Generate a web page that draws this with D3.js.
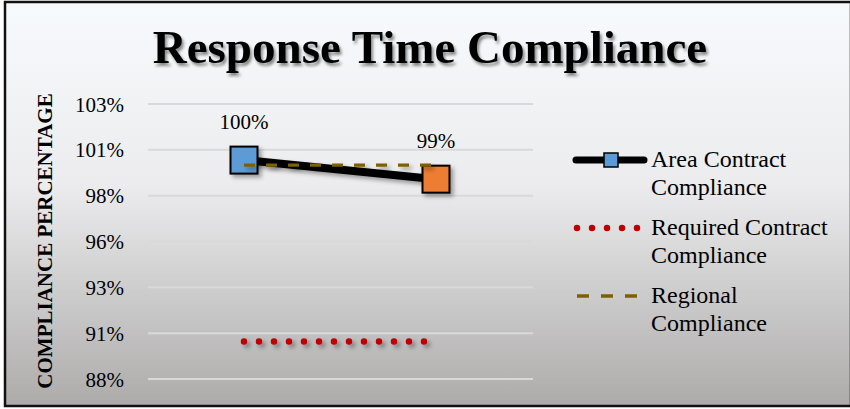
<!DOCTYPE html>
<html lang="en">
  <head>
    <meta charset="UTF-8" />
    <title>Response Time Compliance</title>
    <style>
      body { margin: 0; background: #fff; overflow: hidden; }
      text { font-family: "Liberation Serif", "Times New Roman", serif; fill: #000; }
      .grid line { stroke: #d9d9d9; stroke-width: 2px; }
    </style>
  </head>
  <body>
    <svg width="850" height="409"></svg>
    <script src="https://cdn.jsdelivr.net/npm/d3@7"></script>
    <script>
      // data
      const categories = ["A", "B"];
      const areaCompliance = [0.9994, 0.9890];
      const requiredCompliance = [0.9005, 0.9005];
      const regionalCompliance = [0.9967, 0.9967];
      const yTicks = [0.88, 0.905, 0.93, 0.955, 0.98, 1.005, 1.03];
      const pointColors = ["#5b9bd5", "#ed7d31"];

      // excel style rounding: 100.5% -> 101%
      const pct = (d) => Math.round(Math.round(d * 1000) / 10) + "%";

      const svg = d3.select("svg");
      const defs = svg.append("defs");

      const bg = defs.append("linearGradient").attr("id", "bg")
        .attr("x1", 0).attr("y1", 0).attr("x2", 0).attr("y2", 1);
      bg.append("stop").attr("offset", "0%").attr("stop-color", "#f7fafd");
      bg.append("stop").attr("offset", "45%").attr("stop-color", "#ececee");
      bg.append("stop").attr("offset", "100%").attr("stop-color", "#adabaa");

      // horizontal lines have a flat bbox, so the filter needs user space units
      const sh = defs.append("filter").attr("id", "shadow")
        .attr("filterUnits", "userSpaceOnUse")
        .attr("x", 0).attr("y", 0).attr("width", 850).attr("height", 409);
      sh.append("feDropShadow").attr("dx", 3).attr("dy", 3)
        .attr("stdDeviation", 2).attr("flood-color", "#000").attr("flood-opacity", 0.35);

      const tsh = defs.append("filter").attr("id", "tshadow");
      tsh.append("feDropShadow").attr("dx", 2).attr("dy", 3)
        .attr("stdDeviation", 1.5).attr("flood-color", "#000").attr("flood-opacity", 0.45);

      svg.append("rect")
        .attr("x", 5).attr("y", 2).attr("width", 846).attr("height", 404)
        .attr("fill", "url(#bg)").attr("stroke", "#111").attr("stroke-width", 2.5);

      svg.append("text")
        .attr("x", 430).attr("y", 63)
        .attr("text-anchor", "middle")
        .attr("font-size", 47).attr("font-weight", "bold")
        .attr("filter", "url(#tshadow)")
        .text("Response Time Compliance");

      const x = d3.scaleBand().domain(categories).range([148, 532]);
      const y = d3.scaleLinear().domain([0.88, 1.03]).range([379, 104]);

      // gridlines
      svg.append("g").attr("class", "grid")
        .selectAll("line").data(yTicks).join("line")
        .attr("x1", 148).attr("x2", 533)
        .attr("y1", (d) => y(d)).attr("y2", (d) => y(d));

      const yAxis = svg.append("g")
        .attr("transform", "translate(124,0)")
        .call(d3.axisLeft(y).tickValues(yTicks).tickSize(0).tickPadding(0).tickFormat(pct));
      yAxis.select(".domain").remove();
      yAxis.attr("font-family", null);
      yAxis.selectAll("text")
        .attr("font-size", 21)
        .attr("dy", "0.34em")
        .style("font-family", '"Liberation Serif", serif');

      svg.append("text")
        .attr("transform", "translate(52,241) rotate(-90)")
        .attr("text-anchor", "middle")
        .attr("font-size", 21).attr("font-weight", "bold")
        .text("COMPLIANCE PERCENTAGE");

      const cx = (i) => x(categories[i]) + x.bandwidth() / 2;
      const line = d3.line().x((d, i) => cx(i)).y((d) => y(d));

      // required
      svg.append("path")
        .attr("d", line(requiredCompliance))
        .attr("fill", "none").attr("stroke", "#c00000")
        .attr("stroke-width", 6.5).attr("stroke-linecap", "round")
        .attr("stroke-dasharray", "0 15")
        .attr("filter", "url(#shadow)");

      // area contract
      svg.append("path")
        .attr("d", line(areaCompliance))
        .attr("fill", "none").attr("stroke", "#000")
        .attr("stroke-width", 8)
        .attr("filter", "url(#shadow)");

      svg.selectAll("rect.pt").data(areaCompliance).join("rect")
        .attr("class", "pt")
        .attr("x", (d, i) => cx(i) - 13.5).attr("y", (d) => y(d) - 13.5)
        .attr("width", 27).attr("height", 27)
        .attr("fill", (d, i) => pointColors[i])
        .attr("stroke", "#000").attr("stroke-width", 2)
        .attr("filter", "url(#shadow)");

      // regional, drawn over the markers
      svg.append("path")
        .attr("d", line(regionalCompliance))
        .attr("fill", "none").attr("stroke", "#7f6000")
        .attr("stroke-width", 3.3)
        .attr("stroke-dasharray", "11 11")
        .attr("filter", "url(#shadow)");

      svg.selectAll("text.lbl").data(areaCompliance).join("text")
        .attr("class", "lbl")
        .attr("x", (d, i) => cx(i)).attr("y", (d) => y(d) - 31)
        .attr("text-anchor", "middle").attr("font-size", 21)
        .text((d) => d3.format(".0%")(d));

      // legend
      const legend = [
        { name: ["Area Contract", "Compliance"], y: 160, type: "area" },
        { name: ["Required Contract", "Compliance"], y: 228, type: "req" },
        { name: ["Regional", "Compliance"], y: 296, type: "reg" }
      ];
      const lg = svg.append("g");
      legend.forEach((l) => {
        if (l.type === "area") {
          lg.append("line").attr("x1", 576).attr("x2", 644).attr("y1", l.y).attr("y2", l.y)
            .attr("stroke", "#000").attr("stroke-width", 7).attr("stroke-linecap", "round");
          lg.append("rect").attr("x", 604).attr("y", l.y - 7).attr("width", 14).attr("height", 14)
            .attr("fill", pointColors[0]).attr("stroke", "#000").attr("stroke-width", 1.5);
        } else if (l.type === "req") {
          lg.append("line").attr("x1", 577).attr("x2", 640).attr("y1", l.y).attr("y2", l.y)
            .attr("stroke", "#c00000").attr("stroke-width", 6.5).attr("stroke-linecap", "round")
            .attr("stroke-dasharray", "0 15");
        } else {
          lg.append("line").attr("x1", 577).attr("x2", 637).attr("y1", l.y).attr("y2", l.y)
            .attr("stroke", "#7f6000").attr("stroke-width", 3.3)
            .attr("stroke-dasharray", "12 12");
        }
        l.name.forEach((t, k) => {
          lg.append("text").attr("x", 651).attr("y", l.y + 7 + k * 28)
            .attr("font-size", 24).text(t);
        });
      });
    </script>
  </body>
</html>
